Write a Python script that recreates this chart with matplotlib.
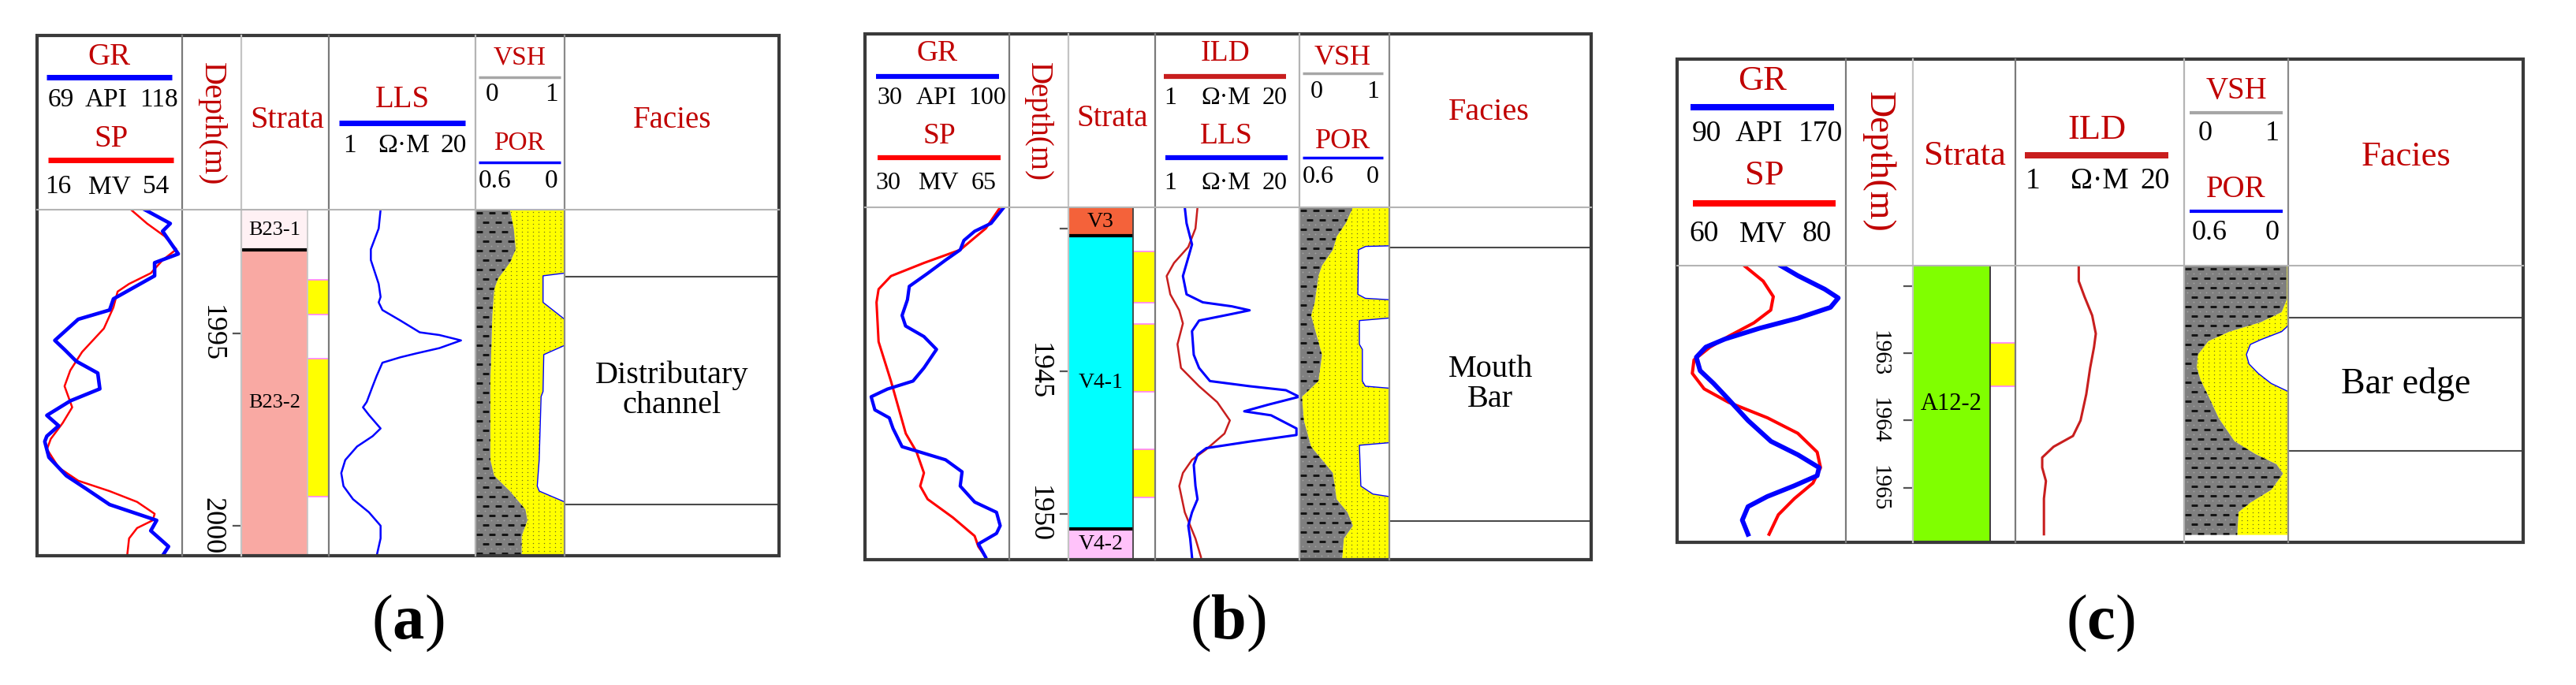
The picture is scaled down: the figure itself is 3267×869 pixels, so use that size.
import numpy as np
import matplotlib.pyplot as plt
from matplotlib.patches import Rectangle

plt.rcParams['font.family'] = ['Liberation Serif', 'DejaVu Serif']
plt.rcParams['mathtext.fontset'] = 'custom'
plt.rcParams['mathtext.rm'] = 'Liberation Serif'
plt.rcParams['mathtext.bf'] = 'Liberation Serif:bold'

W, H = 3267, 869
TITLE = '#C00000'
BLUE = '#0000FF'
RED = '#FF0000'
ILD_RED = '#C81E1E'

# ---------------- panel (a) ----------------
a_gr_depth = [1991.78, 1992.14, 1992.34, 1992.93, 1993.16, 1993.50, 1994.10, 1994.39, 1994.63, 1995.18,
              1995.42, 1995.72, 1996.03, 1996.44, 1996.75, 1997.13, 1997.40, 1997.67, 1997.81, 1998.22,
              1998.70, 1999.04, 1999.45, 1999.62, 1999.86, 2000.13, 2000.54, 2000.78]
a_gr = [105.4, 114.0, 111.4, 116.7, 108.7, 108.7, 94.8, 93.5, 82.9, 75.0,
        78.3, 82.2, 89.5, 90.2, 80.3, 72.3, 76.3, 72.3, 71.6, 73.0,
        78.9, 85.6, 93.5, 100.1, 109.4, 107.4, 113.4, 111.4]
a_sp_depth = [1991.78, 1992.14, 1992.47, 1992.81, 1993.09, 1993.43, 1993.71, 1993.91, 1994.32, 1994.87,
              1995.48, 1995.96, 1996.37, 1996.92, 1997.33, 1997.74, 1998.01, 1998.49, 1998.83, 1999.10,
              1999.38, 1999.69, 1999.86, 2000.06, 2000.33, 2000.78]
a_sp = [40.6, 44.8, 49.4, 52.5, 48.9, 45.8, 40.1, 37.1, 36.0, 33.5,
        27.8, 24.7, 23.2, 25.2, 22.7, 19.6, 18.6, 21.7, 26.8, 35.0,
        42.2, 46.8, 46.3, 42.2, 40.1, 39.6]
a_lls_depth = [1991.78, 1992.27, 1992.81, 1993.09, 1993.71, 1994.05, 1994.19, 1994.39, 1994.66, 1994.97,
               1995.04, 1995.18, 1995.38, 1995.52, 1995.62, 1995.76, 1996.10, 1996.37, 1996.78, 1996.92,
               1997.12, 1997.47, 1997.67, 1997.94, 1998.29, 1998.63, 1998.97, 1999.31, 1999.65, 2000.00,
               2000.33, 2000.78]
a_lls = [2.88, 2.77, 2.36, 2.36, 2.77, 2.88, 2.77, 2.99, 4.30, 6.41,
         9.58, 14.9, 9.58, 5.93, 4.30, 2.99, 2.66, 2.45, 2.17, 2.01,
         2.27, 2.88, 2.45, 1.78, 1.40, 1.29, 1.35, 1.64, 2.27, 2.88,
         2.88, 2.66]
a_vsh_depth = [1991.78, 1992.27, 1992.81, 1993.16, 1993.57, 1993.85, 1994.53, 1996.24, 1998.29, 1998.70,
               1999.10, 1999.58, 1999.86, 2000.27, 2000.78]
a_vsh = [0.386, 0.43, 0.452, 0.386, 0.254, 0.21, 0.189, 0.167, 0.167, 0.21,
         0.386, 0.561, 0.583, 0.518, 0.518]
a_por_depth = [1991.78, 1993.43, 1993.50, 1994.19, 1994.63, 1995.31, 1995.55, 1996.51, 1996.64, 1998.29,
               1998.97, 1999.10, 1999.38, 2000.78]
a_por = [0, 0, 0.145, 0.145, 0, 0, 0.14, 0.145, 0.158, 0.171,
         0.184, 0.17, 0, 0]
a_strata = ['B23-1', 'B23-2']
a_strata_top = [1991.78, 1992.83]
a_strata_bot = [1992.83, 2000.78]
a_sand_top = [1993.61, 1995.66]
a_sand_bot = [1994.51, 1999.24]
a_facies_bounds = [1993.52, 1999.45]
a_facies = 'Distributary\nchannel'
a_ticks = [1995, 2000]
a_tick_labels = [1995, 2000]

# ---------------- panel (b) ----------------
b_gr_depth = [1939.25, 1939.81, 1940.09, 1940.41, 1940.74, 1941.10, 1941.57, 1942.02, 1942.49, 1943.04,
              1943.41, 1943.78, 1944.23, 1944.88, 1945.34, 1945.62, 1945.89, 1946.35, 1946.63, 1947.00,
              1947.64, 1947.87, 1948.10, 1948.52, 1949.02, 1949.58, 1949.94, 1950.41, 1950.68, 1951.05,
              1951.51]
b_gr = [97.4, 91.2, 83.2, 78.0, 76.2, 69.1, 60.3, 51.5, 50.6, 48.0,
        49.7, 58.6, 64.7, 58.6, 53.3, 40.9, 33.0, 34.8, 41.8, 43.6,
        48.0, 58.6, 69.1, 77.1, 76.2, 83.2, 93.8, 95.6, 93.8, 85.0,
        88.5]
b_sp_depth = [1939.25, 1939.99, 1940.74, 1941.20, 1941.66, 1942.12, 1942.58, 1943.96, 1945.34, 1947.18,
              1947.82, 1948.56, 1949.02, 1949.48, 1950.12, 1950.77, 1951.14, 1951.51]
b_sp = [62.8, 59.3, 53.1, 44.3, 36.3, 33.3, 32.8, 33.3, 36.3, 39.9,
        42.5, 44.3, 43.4, 45.2, 51.3, 56.6, 57.5, 59.3]
b_ild_depth = [1939.25, 1939.99, 1940.64, 1941.20, 1941.66, 1942.30, 1942.86, 1943.32, 1944.05, 1944.88,
               1945.52, 1946.08, 1946.72, 1947.18, 1947.73, 1948.10, 1948.56, 1949.02, 1949.94, 1950.86,
               1951.51]
b_ild = [2.41, 2.31, 1.99, 1.48, 1.27, 1.37, 1.65, 1.78, 1.59, 1.71,
         2.49, 3.63, 4.72, 4.22, 2.90, 2.15, 1.78, 1.65, 1.85, 2.31,
         2.59]
b_lls_depth = [1939.25, 1939.81, 1940.55, 1941.01, 1941.66, 1942.30, 1942.58, 1942.72, 1942.86, 1942.99,
               1943.22, 1943.59, 1944.42, 1944.88, 1945.34, 1945.52, 1945.66, 1945.89, 1946.17, 1946.40,
               1946.54, 1947.00, 1947.23, 1947.46, 1947.69, 1947.92, 1948.28, 1949.02, 1949.48, 1949.94,
               1950.41, 1950.86, 1951.51]
b_lls = [1.85, 1.92, 2.15, 1.99, 1.78, 1.92, 2.69, 4.90, 7.11, 4.90,
         2.49, 2.15, 2.23, 2.49, 3.12, 7.11, 15.1, 19.9, 10.4, 6.36,
         11.1, 18.8, 18.8, 7.11, 2.90, 2.41, 2.23, 2.31, 2.41, 2.15,
         1.99, 2.07, 2.15]
b_vsh_depth = [1939.25, 1939.81, 1940.28, 1940.74, 1941.29, 1941.66, 1942.58, 1943.04, 1943.50, 1944.42,
               1945.34, 1945.89, 1946.72, 1947.64, 1948.10, 1948.56, 1949.48, 1949.94, 1950.41, 1950.86,
               1951.60]
b_vsh = [0.595, 0.514, 0.413, 0.372, 0.251, 0.211, 0.17, 0.13, 0.17, 0.251,
         0.211, 0.028, 0.049, 0.13, 0.251, 0.372, 0.413, 0.534, 0.595, 0.494,
         0.474]
b_por_depth = [1939.25, 1940.60, 1940.62, 1940.74, 1942.30, 1942.44, 1942.49, 1943.13, 1943.22, 1944.05,
               1944.23, 1945.34, 1945.52, 1945.59, 1947.50, 1947.59, 1949.02, 1949.30, 1949.39, 1951.60]
b_por = [0, 0, 0.158, 0.206, 0.21, 0.16, 0, 0, 0.2, 0.2,
         0.18, 0.18, 0.16, 0, 0, 0.2, 0.19, 0.11, 0, 0]
b_strata = ['V3', 'V4-1', 'V4-2']
b_strata_top = [1939.25, 1940.25, 1950.52]
b_strata_bot = [1940.25, 1950.52, 1951.60]
b_sand_top = [1940.80, 1943.34, 1947.73]
b_sand_bot = [1942.60, 1945.72, 1949.42]
b_facies_bounds = [1940.66, 1950.25]
b_facies = 'Mouth\nBar'
b_ticks = [1940, 1945, 1950]
b_tick_labels = [1945, 1950]

# ---------------- panel (c) ----------------
c_gr_depth = [1961.70, 1961.85, 1962.05, 1962.18, 1962.32, 1962.48, 1962.63, 1962.79, 1962.91, 1963.06,
              1963.26, 1963.45, 1963.69, 1964.00, 1964.31, 1964.51, 1964.70, 1964.82, 1964.97, 1965.13,
              1965.28, 1965.48, 1965.69]
c_gr = [139.1, 147.3, 160.0, 166.4, 162.7, 147.3, 129.1, 112.7, 103.6, 99.1,
        100.9, 107.3, 114.5, 123.6, 134.5, 147.3, 157.3, 156.4, 145.5, 132.7,
        123.6, 120.9, 123.6]
c_sp_depth = [1961.70, 1961.93, 1962.16, 1962.36, 1962.55, 1962.75, 1962.91, 1963.10, 1963.30, 1963.53,
              1963.73, 1963.96, 1964.19, 1964.47, 1964.70, 1964.93, 1965.16, 1965.40, 1965.69]
c_sp = [67.95, 70.2, 71.4, 71.1, 69.1, 66.1, 63.9, 62.0, 61.8, 63.2,
        66.1, 70.7, 74.3, 76.6, 77.0, 76.1, 73.9, 72.0, 70.9]
c_ild_depth = [1961.70, 1961.93, 1962.16, 1962.44, 1962.71, 1962.91, 1963.22, 1963.61, 1964.00, 1964.23,
               1964.39, 1964.55, 1964.70, 1964.90, 1965.16, 1965.69]
c_ild = [3.08, 3.08, 3.41, 3.91, 4.17, 4.04, 3.77, 3.52, 3.18, 2.78,
         1.97, 1.61, 1.61, 1.72, 1.66, 1.66]
c_vsh_depth = [1961.71, 1962.20, 1962.39, 1962.54, 1962.68, 1962.82, 1963.02, 1963.21, 1963.40, 1963.64,
               1963.97, 1964.31, 1964.50, 1964.65, 1964.79, 1965.03, 1965.22, 1965.36, 1965.70]
c_vsh = [0.987, 0.987, 0.937, 0.736, 0.435, 0.234, 0.133, 0.121, 0.158, 0.234,
         0.334, 0.485, 0.686, 0.887, 0.95, 0.837, 0.636, 0.523, 0.51]
c_por_depth = [1961.71, 1962.58, 1962.61, 1962.68, 1962.80, 1962.87, 1963.02, 1963.16, 1963.30, 1963.45,
               1963.57, 1965.70]
c_por = [0, 0, 0.008, 0.038, 0.158, 0.218, 0.241, 0.226, 0.173, 0.098,
         0, 0]
c_strata = ['A12-2']
c_strata_top = [1961.70]
c_strata_bot = [1965.81]
c_sand_top = [1962.85]
c_sand_bot = [1963.49]
c_facies_bounds = [1962.47, 1964.45]
c_facies = 'Bar edge'
c_ticks = [1962, 1963, 1964, 1965]
c_tick_labels = [1963, 1964, 1965]


fig = plt.figure(figsize=(W / 100, H / 100), dpi=100)
ov = fig.add_axes([0, 0, 1, 1], zorder=10)
ov.set_xlim(0, W)
ov.set_ylim(H, 0)
ov.axis('off')


def track(x0, x1, y0, y1, top, bottom):
    ax = fig.add_axes([x0 / W, 1 - y1 / H, (x1 - x0) / W, (y1 - y0) / H])
    ax.set_axis_off()
    ax.set_ylim(bottom, top)
    return ax


def log_pair(x0, x1, y0, y1, top, bottom, first, second):
    # first / second: (depth, values, xlim, color, lw, log)
    ax = track(x0, x1, y0, y1, top, bottom)
    axes = [ax]
    if second is not None:
        ax2 = ax.twiny()
        ax2.set_axis_off()
        axes.append(ax2)
    for a, spec in zip(axes, [first, second]):
        d, v, xl, c, lw, lg = spec
        if lg:
            a.set_xscale('log')
        a.set_xlim(*xl)
        a.plot(v, d, color=c, lw=lw, solid_joinstyle='round')


def lith(x0, x1, y0, y1, top, bottom, depth, vsh, por_depth, por):
    ax = track(x0, x1, y0, y1, top, bottom)
    ax.set_xlim(0, 1)
    wpx, hpx = x1 - x0, y1 - y0
    d = np.asarray(depth)
    v = np.asarray(vsh)
    sand = ax.fill_betweenx(d, v, 1, facecolor='#FFFF00', lw=0, zorder=1)
    shale = ax.fill_betweenx(d, 0, v, facecolor='#7F7F7F', lw=0, zorder=2)
    # sand texture: small dots
    gx, gy = np.meshgrid(np.arange(3, wpx, 7) / wpx, 1 - np.arange(3, hpx, 5) / hpx)
    dots, = ax.plot(gx.ravel(), gy.ravel(), ls='none', marker='o', ms=1.0, mew=0,
                    color='#6e6e20', transform=ax.transAxes, zorder=1.5)
    dots.set_clip_path(sand.get_paths()[0], ax.transData)
    # shale texture: rows of dashes with light dots between
    xs, ys, lx, ly = [], [], [], []
    for i, r in enumerate(np.arange(4, hpx, 12)):
        cols = np.arange(5 + (i % 2) * 8, wpx, 16)
        xs += list(cols / wpx)
        ys += [1 - r / hpx] * len(cols)
        lcols = np.arange(4, wpx, 8)
        lx += list(lcols / wpx)
        ly += [1 - (r + 6) / hpx] * len(lcols)
    dash, = ax.plot(xs, ys, ls='none', marker='_', ms=6, mew=1.8, color='#151515',
                    transform=ax.transAxes, zorder=2.5)
    dash.set_clip_path(shale.get_paths()[0], ax.transData)
    ldot, = ax.plot(lx, ly, ls='none', marker='o', ms=1.3, mew=0, color='#a5a5a5',
                    transform=ax.transAxes, zorder=2.4)
    ldot.set_clip_path(shale.get_paths()[0], ax.transData)
    # porosity carved from the right edge
    p = np.asarray(por)
    pd_ = np.asarray(por_depth)
    pxp = 1 - p / 0.6
    ax.fill_betweenx(pd_, pxp, 1, facecolor='white', lw=0, zorder=3)
    keep = (p > 0) | (np.r_[p[1:], 0] > 0) | (np.r_[0, p[:-1]] > 0)
    ax.plot(np.where(keep, pxp, np.nan), pd_, color=BLUE, lw=1.0, zorder=4)


def strata(x0, x1, y0, y1, top, bottom, names, tops, bots, colors, split, s_top, s_bot, fs, edge):
    ax = track(x0, x1, y0, y1, top, bottom)
    ax.set_xlim(0, 1)
    for n, t, b, c in zip(names, tops, bots, colors):
        ax.add_patch(Rectangle((0, t), split, b - t, facecolor=c, lw=0))
        ax.text(split / 2, (t + b) / 2, n, ha='center', va='center', fontsize=fs)
    for b in bots[:-1]:
        ax.plot([0, split], [b, b], color='black', lw=3, solid_capstyle='butt')
    for t, b in zip(s_top, s_bot):
        ax.add_patch(Rectangle((split, t), 1 - split, b - t, facecolor='#FFFF00', lw=0))
        ax.plot([split, 1], [t, t], color='#FF80FF', lw=1.2)
        ax.plot([split, 1], [b, b], color='#FF80FF', lw=1.2)
    ax.axvline(split, color=edge, lw=1.3)


def depth_track(x0, x1, y0, y1, top, bottom, ticks, labels, fs):
    ax = track(x0, x1, y0, y1, top, bottom)
    ax.set_xlim(0, 1)
    for t in ticks:
        ax.plot([0.87, 1], [t, t], color='#555555', lw=1.6)
    for lab in labels:
        ax.text(0.5, lab, str(lab), rotation=270, ha='center', va='center',
                fontsize=fs, clip_on=True)


def facies(x0, x1, y0, y1, top, bottom, bounds, name, fs):
    ax = track(x0, x1, y0, y1, top, bottom)
    ax.set_xlim(0, 1)
    for b in bounds:
        ax.axhline(b, color='#4a4a4a', lw=1.5)
    ax.text(0.5, (bounds[0] + bounds[1]) / 2, name, ha='center', va='center',
            fontsize=fs, linespacing=1.05)


def block(x0, x1, y_t, y_l, y_n, title, lc, lw, nums, ts, ns):
    ov.text((x0 + x1) / 2, y_t, title, color=TITLE, fontsize=ts, ha='center', va='center')
    ov.plot([x0, x1], [y_l, y_l], color=lc, lw=lw, solid_capstyle='butt')
    for x, s in nums:
        ov.text(x, y_n, s, fontsize=ns, ha='center', va='center')


def frame(left, right, top, head, bottom, cols):
    shades = ['#7a7a7a', '#c4c4c4', '#7a7a7a', '#b4b4b4', '#8a8a8a']
    for x, c in zip(cols, shades):
        ov.plot([x, x], [top, bottom], color=c, lw=1.6)
    ov.plot([left, right], [head, head], color='#b4b4b4', lw=1.5)
    ov.add_patch(Rectangle((left, top), right - left, bottom - top, fill=False,
                           ec='#3a3a3a', lw=3))


# ---------- draw (a) ----------
L, R, T, HD, B = 47, 988, 45, 266, 705
cols = [231, 306, 417, 603, 716]
top, bot = 1991.78, 2000.78
log_pair(L, cols[0], HD, B, top, bot,
         (a_sp_depth, a_sp, (16, 54), RED, 1.8, False),
         (a_gr_depth, a_gr, (69, 118), BLUE, 3.3, False))
depth_track(cols[0], cols[1], HD, B, top, bot, a_ticks, a_tick_labels, 26)
strata(cols[1], cols[2], HD, B, top, bot, a_strata, a_strata_top, a_strata_bot,
       ['#FFF1F4', '#F9A9A3'], 0.757, a_sand_top, a_sand_bot, 19, '#c8c8c8')
log_pair(cols[2], cols[3], HD, B, top, bot,
         (a_lls_depth, a_lls, (1, 20), BLUE, 1.8, True), None)
lith(cols[3], cols[4], HD, B, top, bot, a_vsh_depth, a_vsh, a_por_depth, a_por)
facies(cols[4], R, HD, B, top, bot, a_facies_bounds, a_facies, 29)
frame(L, R, T, HD, B, cols)
block(59, 218, 72, 98, 127, 'GR', BLUE, 5, [(77, '69'), (134, 'API'), (201, '118')], 28, 24)
block(61, 220, 177, 203, 237, 'SP', RED, 5, [(74, '16'), (139, 'MV'), (198, '54')], 28, 24)
block(430, 590, 127, 156, 185, 'LLS', BLUE, 5, [(443, '1'), (512, 'Ω·M'), (575, '20')], 28, 24)
block(607, 711, 73, 98, 120, 'VSH', '#a6a6a6', 2.5, [(624, '0'), (699, '1')], 24, 24)
block(607, 711, 182, 206, 230, 'POR', BLUE, 2.5, [(628, '0.6'), (699, '0')], 24, 24)
ov.text(268, 157, 'Depth(m)', color=TITLE, fontsize=29, rotation=270, ha='center', va='center')
ov.text(364, 153, 'Strata', color=TITLE, fontsize=29, ha='center', va='center')
ov.text(853, 153, 'Facies', color=TITLE, fontsize=28, ha='center', va='center')
ov.text((L + R) / 2, 791, r'($\mathbf{a}$)', fontsize=58, ha='center', va='center')

# ---------- draw (b) ----------
L, R, T, HD, B = 1097, 2018, 43, 263, 710
cols = [1280, 1355, 1465, 1648, 1762]
top, bot = 1939.25, 1951.60
log_pair(L, cols[0], HD, B, top, bot,
         (b_sp_depth, b_sp, (30, 65), RED, 2.2, False),
         (b_gr_depth, b_gr, (30, 100), BLUE, 3.0, False))
depth_track(cols[0], cols[1], HD, B, top, bot, b_ticks, b_tick_labels, 26)
strata(cols[1], cols[2], HD, B, top, bot, b_strata, b_strata_top, b_strata_bot,
       ['#F4623A', '#00FFFF', '#FFC2FA'], 0.745, b_sand_top, b_sand_bot, 20, '#404040')
log_pair(cols[2], cols[3], HD, B, top, bot,
         (b_ild_depth, b_ild, (1, 20), ILD_RED, 1.8, True),
         (b_lls_depth, b_lls, (1, 20), BLUE, 2.2, True))
lith(cols[3], cols[4], HD, B, top, bot, b_vsh_depth, b_vsh, b_por_depth, b_por)
facies(cols[4], R, HD, B, top, bot, b_facies_bounds, b_facies, 29)
frame(L, R, T, HD, B, cols)
block(1111, 1267, 68, 97, 125, 'GR', BLUE, 4.5, [(1128, '30'), (1188, 'API'), (1252, '100')], 27, 23)
block(1113, 1269, 173, 200, 232, 'SP', RED, 4.5, [(1126, '30'), (1190, 'MV'), (1248, '65')], 27, 23)
block(1476, 1631, 68, 97, 125, 'ILD', ILD_RED, 4.5, [(1484, '1'), (1555, 'Ω·M'), (1617, '20')], 27, 23)
block(1478, 1633, 173, 200, 232, 'LLS', BLUE, 4.5, [(1484, '1'), (1555, 'Ω·M'), (1617, '20')], 27, 23)
block(1652, 1754, 73, 93, 116, 'VSH', '#a6a6a6', 2.5, [(1670, '0'), (1741, '1')], 26, 23)
block(1652, 1754, 180, 200, 225, 'POR', BLUE, 2.5, [(1672, '0.6'), (1741, '0')], 26, 23)
ov.text(1316, 155, 'Depth(m)', color=TITLE, fontsize=28, rotation=270, ha='center', va='center')
ov.text(1411, 150, 'Strata', color=TITLE, fontsize=28, ha='center', va='center')
ov.text(1888, 143, 'Facies', color=TITLE, fontsize=29, ha='center', va='center')
ov.text((L + R) / 2, 791, r'($\mathbf{b}$)', fontsize=58, ha='center', va='center')

# ---------- draw (c) ----------
L, R, T, HD, B = 2127, 3200, 75, 337, 688
cols = [2341, 2426, 2556, 2770, 2902]
top, bot = 1961.70, 1965.81
log_pair(L, cols[0], HD, B, top, bot,
         (c_sp_depth, c_sp, (60, 80), RED, 2.9, False),
         (c_gr_depth, c_gr, (90, 170), BLUE, 4.3, False))
depth_track(cols[0], cols[1], HD, B, top, bot, c_ticks, c_tick_labels, 21)
strata(cols[1], cols[2], HD, B, top, bot, c_strata, c_strata_top, c_strata_bot,
       ['#80FF00'], 0.754, c_sand_top, c_sand_bot, 22, '#303030')
log_pair(cols[2], cols[3], HD, B, top, bot,
         (c_ild_depth, c_ild, (1, 20), ILD_RED, 2.2, True), None)
lith(cols[3], cols[4], HD, B, top, bot, c_vsh_depth, c_vsh, c_por_depth, c_por)
facies(cols[4], R, HD, B, top, bot, c_facies_bounds, c_facies, 33)
frame(L, R, T, HD, B, cols)
block(2144, 2326, 103, 136, 170, 'GR', BLUE, 5.8, [(2164, '90'), (2231, 'API'), (2309, '170')], 32, 27)
block(2147, 2328, 223, 258, 297, 'SP', RED, 5.8, [(2161, '60'), (2236, 'MV'), (2304, '80')], 32, 27)
block(2568, 2750, 165, 197, 230, 'ILD', ILD_RED, 5.8, [(2578, '1'), (2663, 'Ω·M'), (2733, '20')], 32, 27)
block(2777, 2895, 115, 143, 169, 'VSH', '#a6a6a6', 3, [(2797, '0'), (2882, '1')], 28, 26)
block(2777, 2895, 240, 268, 296, 'POR', BLUE, 3, [(2802, '0.6'), (2882, '0')], 28, 26)
ov.text(2382, 205, 'Depth(m)', color=TITLE, fontsize=33, rotation=270, ha='center', va='center')
ov.text(2492, 198, 'Strata', color=TITLE, fontsize=32, ha='center', va='center')
ov.text(3052, 199, 'Facies', color=TITLE, fontsize=32, ha='center', va='center')
ov.text((L + R) / 2, 791, r'($\mathbf{c}$)', fontsize=58, ha='center', va='center')

fig.savefig('out.png', dpi=100)
